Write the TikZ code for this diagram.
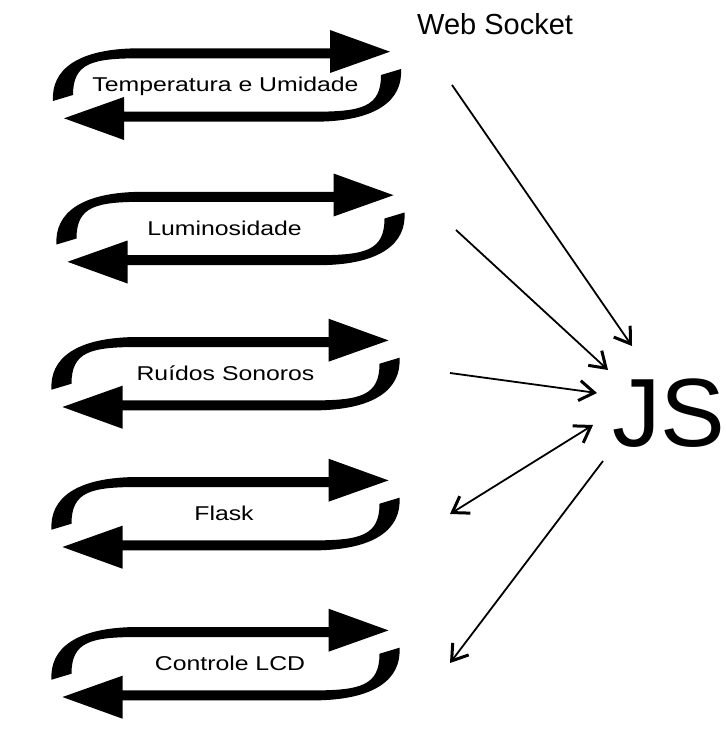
\documentclass[tikz,border=0pt]{standalone}
\usepackage{fontspec}
\setmainfont{Liberation Sans}
\newfontfamily\widefont[FakeStretch=1.24]{Liberation Sans}
\usetikzlibrary{positioning,arrows.meta}
\tikzset{
  swoosh/.pic={
    \fill (103,-26.7) -- (-87,-26.7) .. controls (-135,-26.7) and (-154,-22) .. (-154,10)
      -- (-174,16) .. controls (-176,-15) and (-150,-36.7) .. (-87,-36.7)
      -- (103,-36.7) -- (103,-55) -- (163,-33.3) -- (103,-12) -- cycle;
  },
  cycleicon/.pic={
    \pic {swoosh};
    \pic[rotate=180] {swoosh};
  },
  looplabel/.style={font=\widefont\fontsize{20}{24}\selectfont, inner sep=0pt, anchor=base},
  wsarr/.style={>={Straight Barb[length=15pt,width=20pt,line width=3pt]}, line width=1.8pt}
}

\begin{document}
\begin{tikzpicture}[x=1pt,y=-1pt]
  \useasboundingbox (0,0) rectangle (726,749);
  % ciclos
  \pic at (227,85) {cycleicon};
  \pic at (230.5,228.5) {cycleicon};
  \pic at (225.5,373.7) {cycleicon};
  \pic at (225.5,513.7) {cycleicon};
  \pic at (225.5,663.7) {cycleicon};
  \node[looplabel] (temp) at (225.5,91.7) {Temperatura e Umidade};
  \node[looplabel] (lum) at (224.5,235) {Luminosidade};
  \node[looplabel] (ruido) at (225.5,380.7) {Ruídos Sonoros};
  \node[looplabel] (flask) at (224,520) {Flask};
  \node[looplabel] (lcd) at (230,670) {Controle LCD};
  % lado direito
  \node[font=\fontsize{29}{33}\selectfont, inner sep=0pt, anchor=base west] (ws) at (417,35) {Web Socket};
  \node[font=\fontsize{97}{107}\selectfont, inner sep=0pt, anchor=base west] (js) at (612,446) {JS};
  \coordinate (s1) at (452,85);  \coordinate (e1) at (632,346);
  \coordinate (s2) at (456,230); \coordinate (e2) at (608,370);
  \coordinate (s3) at (450,373); \coordinate (e3) at (597,393);
  \coordinate (s4) at (450,514); \coordinate (e4) at (593,425);
  \coordinate (s5) at (450,663); \coordinate (e5) at (603,461);
  \draw[wsarr,->] (s1) -- (e1);
  \draw[wsarr,->] (s2) -- (e2);
  \draw[wsarr,->] (s3) -- (e3);
  \draw[wsarr,<->] (s4) -- (e4);
  \draw[wsarr,->] (e5) -- (s5);
\end{tikzpicture}
\end{document}
